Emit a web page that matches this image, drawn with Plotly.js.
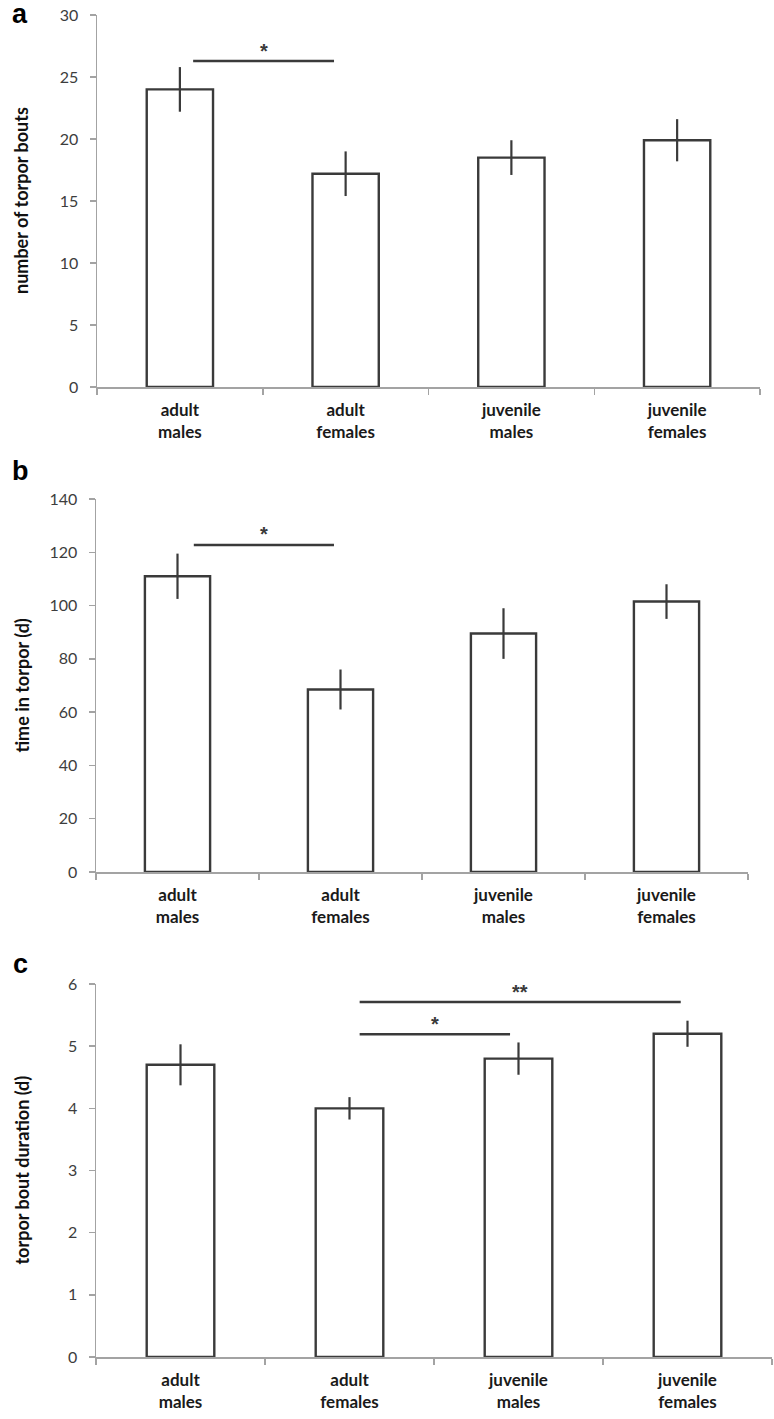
<!DOCTYPE html>
<html>
<head>
<meta charset="utf-8">
<script src="https://cdn.plot.ly/plotly-3.0.1.min.js"></script>
<style>html,body{margin:0;padding:0;background:#fff;}#chart{width:774px;height:1419px;}</style>
</head>
<body>
<div id="chart"></div>
<script>
// ---- data ----
const categories = ['adult<br>males', 'adult<br>females', 'juvenile<br>males', 'juvenile<br>females'];

const boutsMean = [24.0, 17.2, 18.5, 19.9];
const boutsErr  = [1.8, 1.8, 1.4, 1.7];

const timeMean = [111, 68.5, 89.5, 101.5];
const timeErr  = [8.5, 7.5, 9.5, 6.5];

const durMean = [4.7, 4.0, 4.8, 5.2];
const durErr  = [0.33, 0.18, 0.26, 0.21];

const yTitles = ['number of torpor bouts', 'time in torpor (d)', 'torpor bout duration (d)'];
const panelLetters = ['a', 'b', 'c'];
const yRanges = [[0, 30], [0, 140], [0, 6]];
const yDticks = [5, 20, 1];

// significance brackets
const sigFrom   = [0.08, 0.10, 1.06, 1.06];
const sigTo     = [0.93, 0.96, 1.95, 2.96];
const sigLevel  = [26.3, 122.7, 5.19, 5.71];
const sigLabel  = ['*', '*', '*', '**'];
const sigLabelY = [27.1, 126.9, 5.35, 5.87];
const sigPanel  = [0, 1, 2, 2];

// ---- layout geometry (pixels) ----
const W = 774, H = 1419;
const xDom = [[97, 760], [96, 748], [96, 772]];
const yPix = [[15, 387], [499, 872], [984, 1357]];
const letterY = [14, 471, 964];

const ink = '#3a3a3a';
const axisGray = '#a3a3a3';
const fontFam = 'Lato, "Liberation Sans", Arial, sans-serif';

const means = [boutsMean, timeMean, durMean];
const errs = [boutsErr, timeErr, durErr];

const traces = means.map((m, i) => ({
  type: 'bar',
  x: categories,
  y: m,
  xaxis: i === 0 ? 'x' : 'x' + (i + 1),
  yaxis: i === 0 ? 'y' : 'y' + (i + 1),
  marker: { color: '#ffffff', line: { color: ink, width: 2.4 } },
  error_y: { type: 'data', array: errs[i], visible: true, color: ink, thickness: 2.2, width: 0 },
  hoverinfo: 'skip',
  showlegend: false
}));

const layout = {
  width: W, height: H,
  margin: { l: 0, r: 0, t: 0, b: 0 },
  paper_bgcolor: '#fff', plot_bgcolor: '#fff',
  bargap: 0.6,
  font: { family: fontFam, color: ink },
  shapes: [],
  annotations: []
};

for (let i = 0; i < 3; i++) {
  const xs = i === 0 ? '' : String(i + 1);
  layout['xaxis' + xs] = {
    domain: [xDom[i][0] / W, xDom[i][1] / W],
    anchor: 'y' + xs,
    type: 'category',
    range: [-0.5, 3.5],
    showline: true, linecolor: axisGray, linewidth: 1.5,
    ticks: 'outside', tickson: 'boundaries', ticklen: 6, tickcolor: axisGray, tickwidth: 1.5,
    tickfont: { family: fontFam, size: 17, color: '#1a1a1a', weight: 'bold' },
    ticklabelstandoff: 7,
    showgrid: false, zeroline: false, fixedrange: true
  };
  layout['yaxis' + xs] = {
    domain: [1 - yPix[i][1] / H, 1 - yPix[i][0] / H],
    anchor: 'x' + xs,
    range: yRanges[i],
    dtick: yDticks[i],
    showline: true, linecolor: axisGray, linewidth: 1.5,
    ticks: 'outside', ticklen: 6, tickcolor: axisGray, tickwidth: 1.5,
    tickfont: { family: fontFam, size: 16, color: '#3d3d3d' },
    ticklabelstandoff: 8,
    showgrid: false, zeroline: false, fixedrange: true
  };
  layout.annotations.push({
    xref: 'paper', yref: 'paper',
    x: 21 / W, y: 1 - (yPix[i][0] + yPix[i][1]) / 2 / H,
    text: '<b>' + yTitles[i] + '</b>', textangle: -90, showarrow: false,
    font: { family: fontFam, size: 18, color: '#111' },
    xanchor: 'center', yanchor: 'middle'
  });
  layout.annotations.push({
    xref: 'paper', yref: 'paper',
    x: 20 / W, y: 1 - letterY[i] / H,
    text: '<b>' + panelLetters[i] + '</b>', showarrow: false,
    font: { family: 'Liberation Sans, Arial, sans-serif', size: 27, color: '#000' },
    xanchor: 'center', yanchor: 'middle'
  });
}

for (let k = 0; k < sigFrom.length; k++) {
  const xs = sigPanel[k] === 0 ? '' : String(sigPanel[k] + 1);
  layout.shapes.push({
    type: 'line', xref: 'x' + xs, yref: 'y' + xs,
    x0: sigFrom[k], x1: sigTo[k], y0: sigLevel[k], y1: sigLevel[k],
    line: { color: ink, width: 2.5 }
  });
  layout.annotations.push({
    xref: 'x' + xs, yref: 'y' + xs,
    x: (sigFrom[k] + sigTo[k]) / 2, y: sigLabelY[k],
    text: '<b>' + sigLabel[k] + '</b>', showarrow: false,
    font: { family: 'Liberation Sans, Arial, sans-serif', size: 20, color: ink },
    xanchor: 'center', yanchor: 'middle'
  });
}

Plotly.newPlot('chart', traces, layout, { displayModeBar: false, staticPlot: true });
</script>
</body>
</html>
